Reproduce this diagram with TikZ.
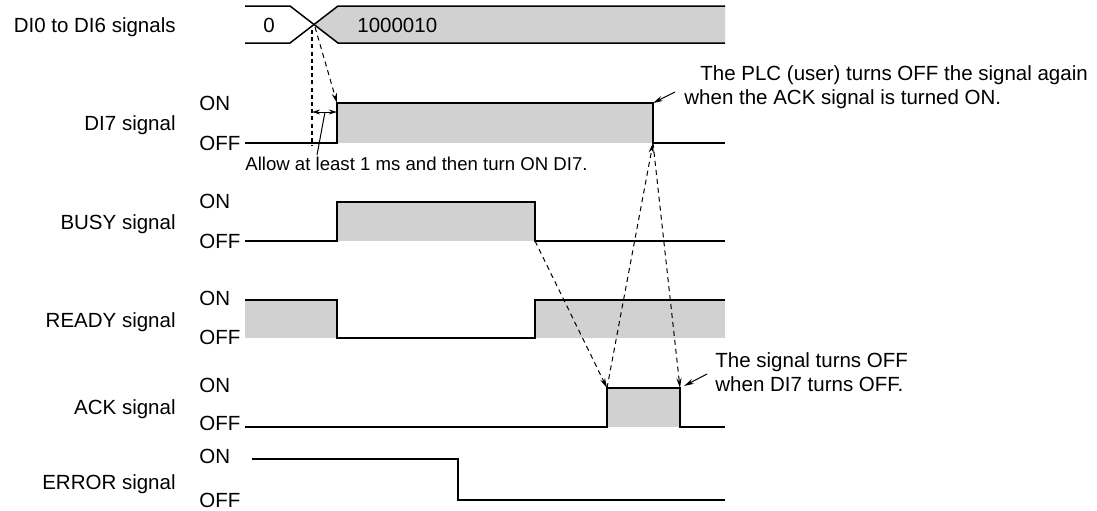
\documentclass[tikz,border=0pt]{standalone}
\usepackage{fontspec}
\setmainfont{Liberation Sans}
\usetikzlibrary{arrows.meta}

\begin{document}
\begin{tikzpicture}[
  x=0.5pt, y=-0.5pt,
  font=\fontsize{10.25}{12.3}\selectfont,
  sig/.style={anchor=base east, inner sep=0pt},
  lvl/.style={anchor=base west, inner sep=0pt},
  wave/.style={line width=0.75pt},
  hi/.style={fill=black!18},
  dep/.style={-{Stealth[length=5pt,width=2.6pt]}, dash pattern=on 2.5pt off 2pt, line width=0.5pt},
  lead/.style={-{Stealth[length=5pt,width=2.6pt]}, line width=0.5pt},
  note/.style={anchor=base west, inner sep=0pt}
]
\useasboundingbox (0,0) rectangle (1097,510);

% signal names
\node[sig] (nbus) at (176,32) {DI0 to DI6 signals};
\node[sig] (ndi7) at (176,130) {DI7 signal};
\node[sig] (nbusy) at (176,229) {BUSY signal};
\node[sig] (nready) at (176,327) {READY signal};
\node[sig] (nack) at (176,414) {ACK signal};
\node[sig] (nerr) at (176,489) {ERROR signal};

% ON / OFF levels
\foreach \y/\t in {110/ON,150/OFF,208/ON,248/OFF,305/ON,344/OFF,392/ON,430/OFF,463/ON,507/OFF}
  \node[lvl] (lv\y) at (199,\y) {\t};

% DI0 to DI6
\fill[hi] (725,6) -- (338,6) -- (315,25) -- (338,43) -- (725,43) -- cycle;
\draw[wave] (245,6) -- (290,6) -- (338,43) -- (725,43);
\draw[wave] (245,43) -- (290,43) -- (338,6) -- (725,6);
\node[lvl] (v0) at (263,32) {0};
\node[lvl] (v1) at (357,32) {1000010};

% DI7
\fill[hi] (337,103) rectangle (653,143);
\draw[wave] (245,143) -| (337,103) -| (653,143) -- (725,143);

% BUSY
\fill[hi] (337,202) rectangle (535,241);
\draw[wave] (245,241) -| (337,202) -| (535,241) -- (725,241);

% READY
\fill[hi] (245,300) rectangle (337,338);
\fill[hi] (535,300) rectangle (725,338);
\draw[wave] (245,300) -| (337,338) -| (535,300) -- (725,300);

% ACK
\fill[hi] (607,388) rectangle (680,427);
\draw[wave] (245,427) -| (607,388) -| (680,427) -- (725,427);

% ERROR
\draw[wave] (252,459) -| (458,500) -- (725,500);

% timing points
\coordinate (cross) at (315,27);
\coordinate (di7up) at (337,103);
\coordinate (di7top) at (653,103);
\coordinate (di7dn) at (653,143);
\coordinate (busydn) at (535,241);
\coordinate (ackup) at (607,388);
\coordinate (ackdn) at (680,388);
\coordinate (w0) at (312,30);
\coordinate (w1) at (312,146);
\coordinate (gap) at (312,112);
\coordinate (gapmid) at (325,112);
\coordinate (gapend) at (317,155);

\draw[line width=1.1pt, dash pattern=on 2pt off 1.6pt] (w0) -- (w1);
\draw[{Stealth[length=4pt,width=2.4pt]}-{Stealth[length=4pt,width=2.4pt]}, line width=0.5pt] (gap) -- (gap -| di7up);
\draw[line width=0.5pt] (gapmid) -- (gapend);
\node[note, font=\fontsize{9.3}{11}\selectfont] (allow) at (245,170) {Allow at least 1 ms and then turn ON DI7.};

\draw[dep] (cross) -- (di7up);
\draw[dep] (busydn) -- (ackup);
\draw[dep] (ackup) -- (di7dn);
\draw[dep] (di7dn) -- (ackdn);

% notes
\coordinate (n1) at (675,92);
\coordinate (n2) at (707,374);
\draw[lead] (n1) -- (di7top);
\draw[lead] (n2) -- (684,386);
\node[note] (note1a) at (700,80) {The PLC (user) turns OFF the signal again};
\node[note] (note1b) at (684,104) {when the ACK signal is turned ON.};
\node[note] (note2a) at (715,367) {The signal turns OFF};
\node[note] (note2b) at (715,391) {when DI7 turns OFF.};
\end{tikzpicture}
\end{document}
